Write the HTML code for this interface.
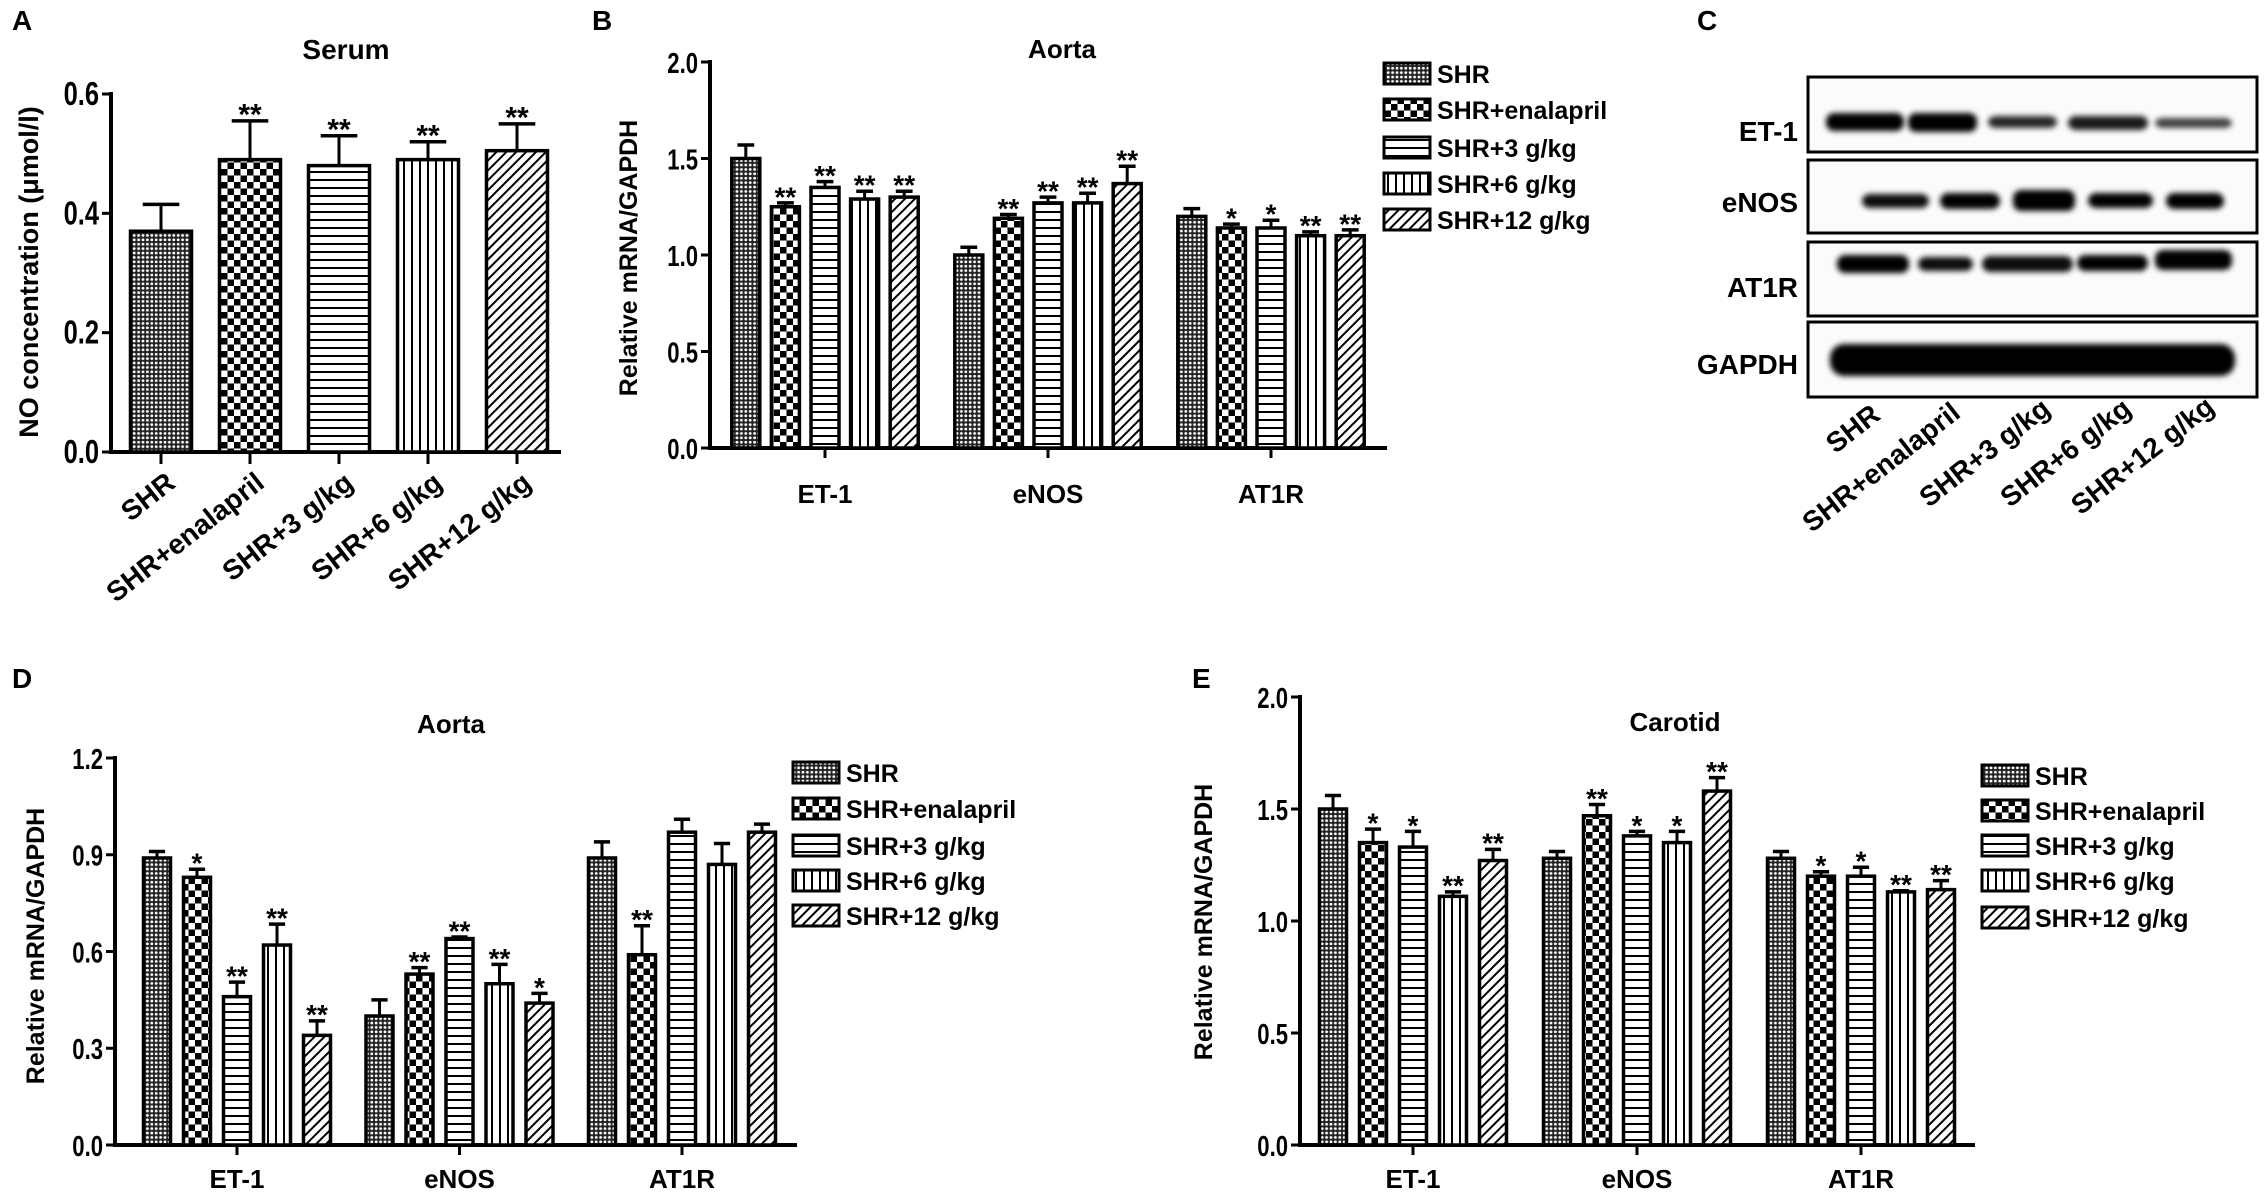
<!DOCTYPE html>
<html><head><meta charset="utf-8"><style>
html,body{margin:0;padding:0;background:#fff;}
svg{display:block;font-family:"Liberation Sans",Arial,sans-serif;font-weight:bold;}
</style></head><body>
<svg id="fig" xmlns="http://www.w3.org/2000/svg" width="2268" height="1198" viewBox="0 0 2268 1198">
<defs>
<pattern id="p0" patternUnits="userSpaceOnUse" width="4.4" height="4.4"><rect width="4.4" height="4.4" fill="#222"/><circle cx="2.2" cy="2.2" r="1.4" fill="#fff"/></pattern>
<pattern id="p1" patternUnits="userSpaceOnUse" width="13" height="13"><rect width="13" height="13" fill="#fff"/><rect width="6.5" height="6.5" fill="#000"/><rect x="6.5" y="6.5" width="6.5" height="6.5" fill="#000"/></pattern>
<pattern id="p2" patternUnits="userSpaceOnUse" width="8" height="8"><rect width="8" height="8" fill="#fff"/><rect y="3" width="8" height="2" fill="#000"/></pattern>
<pattern id="p3" patternUnits="userSpaceOnUse" width="8" height="8"><rect width="8" height="8" fill="#fff"/><rect x="3" width="2" height="8" fill="#000"/></pattern>
<pattern id="p4" patternUnits="userSpaceOnUse" width="7" height="7" patternTransform="rotate(45)"><rect width="7" height="7" fill="#fff"/><rect x="2.5" width="2" height="7" fill="#000"/></pattern>
<filter id="blur" x="-20%" y="-60%" width="140%" height="220%"><feGaussianBlur stdDeviation="3"/></filter>
</defs>
<g id="root"></g>
</svg>
<script>
// ---------- data ----------
const groupsA = ['SHR','SHR+enalapril','SHR+3 g/kg','SHR+6 g/kg','SHR+12 g/kg'];
const valuesA = [0.37,0.49,0.48,0.49,0.505];
const errA = [0.045,0.065,0.05,0.03,0.045];
const starsA = ['','**','**','**','**'];
const ticksA = [0.0,0.2,0.4,0.6];

const genes = ['ET-1','eNOS','AT1R'];
const seriesNames = ['SHR','SHR+enalapril','SHR+3 g/kg','SHR+6 g/kg','SHR+12 g/kg'];

const valuesB = [[1.50,1.25,1.35,1.29,1.30],[1.00,1.19,1.27,1.27,1.37],[1.20,1.14,1.14,1.10,1.10]];
const errB = [[0.07,0.02,0.03,0.04,0.03],[0.04,0.02,0.03,0.05,0.09],[0.04,0.02,0.04,0.02,0.03]];
const starsB = [['','**','**','**','**'],['','**','**','**','**'],['','*','*','**','**']];
const ticksB = [0.0,0.5,1.0,1.5,2.0];

const valuesD = [[0.89,0.83,0.46,0.62,0.34],[0.40,0.53,0.64,0.50,0.44],[0.89,0.59,0.97,0.87,0.97]];
const errD = [[0.02,0.025,0.045,0.065,0.045],[0.05,0.02,0.005,0.06,0.03],[0.05,0.09,0.04,0.065,0.025]];
const starsD = [['','*','**','**','**'],['','**','**','**','*'],['','**','','','']];
const ticksD = [0.0,0.3,0.6,0.9,1.2];

const valuesE = [[1.50,1.35,1.33,1.11,1.27],[1.28,1.47,1.38,1.35,1.58],[1.28,1.20,1.20,1.13,1.14]];
const errE = [[0.06,0.06,0.07,0.02,0.05],[0.03,0.05,0.02,0.05,0.06],[0.03,0.02,0.04,0.005,0.04]];
const starsE = [['','*','*','**','**'],['','**','*','*','**'],['','*','*','**','**']];
const ticksE = [0.0,0.5,1.0,1.5,2.0];

const blotRows = ['ET-1','eNOS','AT1R','GAPDH'];

// ---------- helpers ----------
const NS='http://www.w3.org/2000/svg';
const root=document.getElementById('root');
function el(tag,attrs,parent,text){const e=document.createElementNS(NS,tag);for(const k in attrs)e.setAttribute(k,attrs[k]);if(text!==undefined)e.textContent=text;(parent||root).appendChild(e);return e;}
function fmt(v){return v.toFixed(1);}

function axes(g,cfg){
  const y=v=>cfg.y0-(v-cfg.min)/(cfg.max-cfg.min)*(cfg.y0-cfg.yTop);
  const ax=el('line',{x1:cfg.ax,y1:cfg.yTop-2,x2:cfg.ax,y2:cfg.y0,stroke:'#000','stroke-width':4},g);
  
  
  const xl=el('line',{x1:cfg.ax-2,y1:cfg.y0,x2:cfg.xEnd,y2:cfg.y0,stroke:'#000','stroke-width':4},g);
  
  
  cfg.ticks.forEach(t=>{
    const ty=y(t);
    el('line',{x1:cfg.ax-9,y1:ty,x2:cfg.ax,y2:ty,stroke:'#000','stroke-width':3},g);
    const tl=el('text',{x:cfg.ax-12,y:ty+10,'text-anchor':'end','font-size':cfg.tickFont,transform:`translate(${cfg.ax-12},${ty}) scale(0.85,1.1) translate(${-(cfg.ax-12)},${-ty})`},g,fmt(t));
    
    
  });
  const yt=el('text',{x:0,y:0,transform:`translate(${cfg.ytX},${cfg.ytY}) rotate(-90)`,'text-anchor':'middle','font-size':cfg.titleFont},g,cfg.yTitle);
  
  
  const ct=el('text',{x:cfg.titleX,y:cfg.titleY,'text-anchor':'middle','font-size':cfg.titleFont+1},g,cfg.title);
  
  
  const pl=el('text',{x:cfg.lblX,y:cfg.lblY,'font-size':28},g,cfg.lbl);
  
  
  return y;
}

function bar(g,cx,w,v,e,star,y,pi,starFont){
  const top=y(v), bottom=y(0);
  const et=y(v+e);
  el('line',{x1:cx,y1:top,x2:cx,y2:et,stroke:'#000','stroke-width':3},g);
  el('line',{x1:cx-w*0.3,y1:et,x2:cx+w*0.3,y2:et,stroke:'#000','stroke-width':3.5},g);
  const r=el('rect',{x:cx-w/2,y:top,width:w,height:bottom-top,fill:`url(#p${pi})`,stroke:'#000','stroke-width':3.5},g);
  
  
  if(star){
    const s=el('text',{x:cx,y:et+starFont*0.12,'text-anchor':'middle','font-size':starFont},g,star);
    
    
  }
}

function legend(g,x,ys,font){
  seriesNames.forEach((n,i)=>{
    const b=el('rect',{x:x,y:ys[i]-10,width:46,height:21,fill:`url(#p${i})`,stroke:'#000','stroke-width':3},g);
    
    
    const t=el('text',{x:x+53,y:ys[i]+10,'font-size':font,textLength:0},g,n);
    t.removeAttribute('textLength');
    
    
  });
}

function grouped(cfg,vals,errs,stars){
  const g=el('g',{});
  
  
  const y=axes(g,cfg);
  genes.forEach((gn,gi)=>{
    const gc=cfg.g0+gi*cfg.gStep;
    el('line',{x1:gc,y1:cfg.y0,x2:gc,y2:cfg.y0+10,stroke:'#000','stroke-width':3},g);
    const xl=el('text',{x:gc,y:cfg.xlY,'text-anchor':'middle','font-size':cfg.tickFont},g,gn);
    
    
    vals[gi].forEach((v,i)=>bar(g,gc+(i-2)*cfg.step,cfg.bw,v,errs[gi][i],stars[gi][i],y,i,28));
  });
  legend(g,cfg.legX,cfg.legY,cfg.legFont);
}

// ---------- Panel A ----------
(function(){
  const g=el('g',{});
  
  
  const cfg={ax:111,xEnd:561,y0:452,yTop:94,min:0,max:0.6,ticks:ticksA,tickFont:30,titleFont:27,
    yTitle:'NO concentration (\u03bcmol/l)',ytX:38,ytY:272,title:'Serum',titleX:346,titleY:59,lbl:'A',lblX:12,lblY:30};
  const y=axes(g,cfg);
  groupsA.forEach((c,i)=>{
    const cx=161+i*89;
    el('line',{x1:cx,y1:452,x2:cx,y2:464,stroke:'#000','stroke-width':3},g);
    bar(g,cx,61,valuesA[i],errA[i],starsA[i],y,i,30);
    const t=el('text',{x:0,y:0,transform:`translate(${cx+16},${486}) rotate(-38)`,'text-anchor':'end','font-size':28},g,c);
    
    
  });
})();

// ---------- Panel B ----------
grouped({name:'panel-b-aorta-chart',ax:710,xEnd:1387,y0:448,yTop:62,min:0,max:2,ticks:ticksB,tickFont:26,titleFont:25,
  yTitle:'Relative mRNA/GAPDH',ytX:637,ytY:258,title:'Aorta',titleX:1062,titleY:58,lbl:'B',lblX:592,lblY:30,
  g0:825,gStep:223,step:39.6,bw:28,xlY:503,legX:1384,legY:[73,109,147,183,219],legFont:25},valuesB,errB,starsB);

// ---------- Panel D ----------
grouped({name:'panel-d-aorta-chart',ax:115,xEnd:797,y0:1145,yTop:758,min:0,max:1.2,ticks:ticksD,tickFont:26,titleFont:25,
  yTitle:'Relative mRNA/GAPDH',ytX:44,ytY:946,title:'Aorta',titleX:451,titleY:733,lbl:'D',lblX:12,lblY:688,
  g0:237,gStep:222.5,step:40,bw:27,xlY:1188,legX:793,legY:[772,808,845,880,915],legFont:25},valuesD,errD,starsD);

// ---------- Panel E ----------
grouped({name:'panel-e-carotid-chart',ax:1300,xEnd:1975,y0:1145,yTop:697,min:0,max:2,ticks:ticksE,tickFont:26,titleFont:25,
  yTitle:'Relative mRNA/GAPDH',ytX:1212,ytY:922,title:'Carotid',titleX:1675,titleY:731,lbl:'E',lblX:1192,lblY:688,
  g0:1413,gStep:224,step:40,bw:27,xlY:1188,legX:1982,legY:[775,810,845,880,917],legFont:25},valuesE,errE,starsE);

// ---------- Panel C (western blot) ----------
(function(){
  const g=el('g',{});
  
  
  const pl=el('text',{x:1697,y:30,'font-size':28},g,'C');
  
  
  const boxes=[[77,152],[160,233],[242,316],[322,397]];
  const base=[141,212,297,374];
  const bands=[
    [[1826,1904,113,131,1],[1908,1977,113,132,1],[1988,2057,116,128,0.85],[2068,2148,116,130,0.9],[2155,2232,118,128,0.75]],
    [[1862,1929,194,208,0.95],[1940,2000,193,209,1],[2013,2075,190,211,1],[2088,2153,193,208,1],[2166,2224,193,209,1]],
    [[1837,1909,255,273,1],[1918,1973,257,271,0.95],[1982,2073,256,272,0.95],[2077,2148,255,271,1],[2155,2232,250,270,1]]
  ];
  boxes.forEach((b,i)=>{
    const r=el('rect',{x:1808,y:b[0],width:449,height:b[1]-b[0],fill:'#fbfbfb',stroke:'#000','stroke-width':3},g);
    
    
    const t=el('text',{x:1798,y:base[i],'text-anchor':'end','font-size':28},g,blotRows[i]);
    
    
  });
  bands.forEach(row=>row.forEach(b=>{
    el('rect',{x:b[0],y:b[2],width:b[1]-b[0],height:b[3]-b[2],rx:8,fill:'#000','fill-opacity':b[4],filter:'url(#blur)'},g);
  }));
  el('rect',{x:1830,y:344,width:405,height:32,rx:14,fill:'#000',filter:'url(#blur)'},g);
  const lanes=[[1882,418],[1962,416],[2052,412],[2133,412],[2216,410]];
  seriesNames.forEach((n,i)=>{
    const t=el('text',{x:0,y:0,transform:`translate(${lanes[i][0]},${lanes[i][1]}) rotate(-38)`,'text-anchor':'end','font-size':28},g,n);
    
    
  });
})();
</script>
</body></html>
